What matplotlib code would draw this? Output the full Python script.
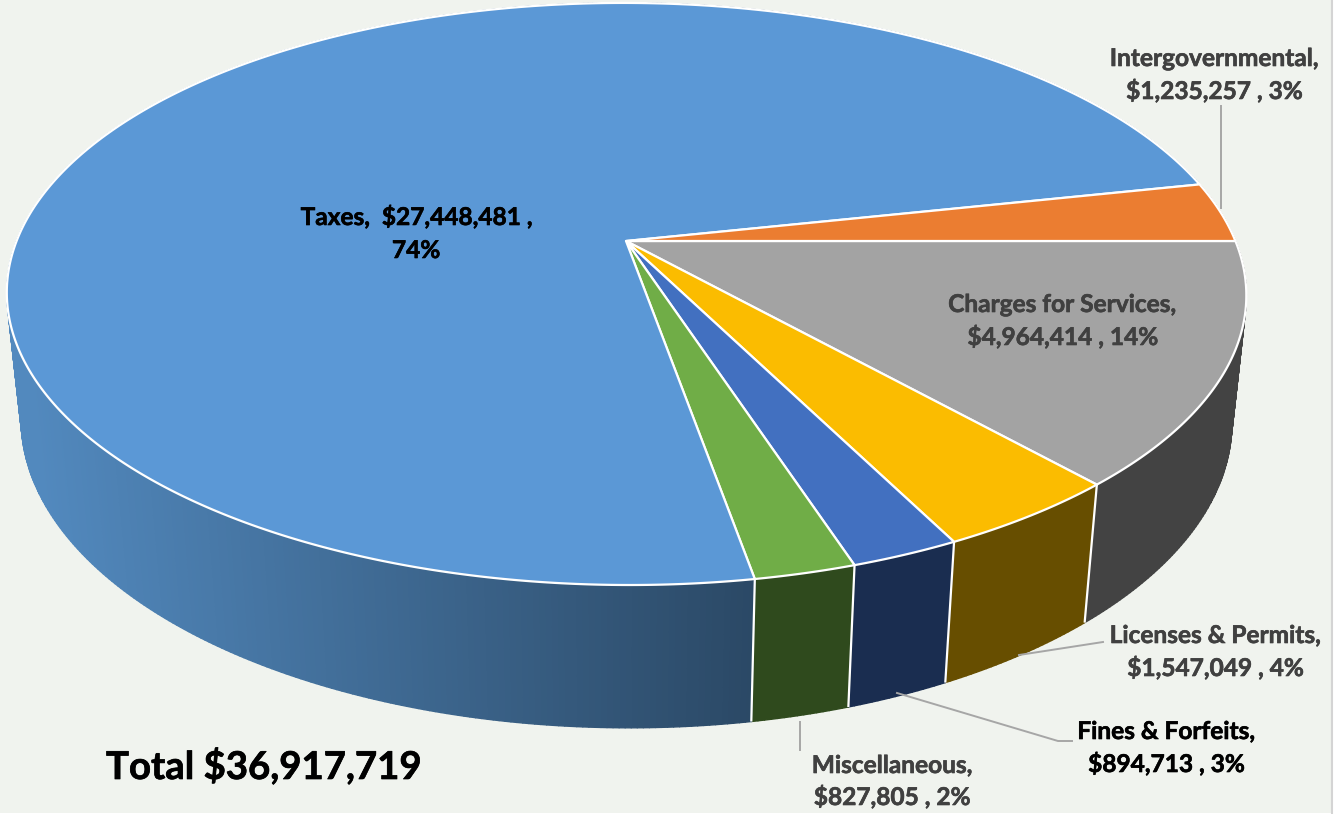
import numpy as np
import matplotlib
matplotlib.use("Agg")
import matplotlib.pyplot as plt
import matplotlib.patheffects as pe
from matplotlib.collections import PolyCollection
from matplotlib.colors import to_rgb

# Revenue by source; order runs clockwise from the three o'clock direction
categories = ["Charges for Services", "Licenses & Permits", "Fines & Forfeits",
              "Miscellaneous", "Taxes", "Intergovernmental"]
amounts = [4964414, 1547049, 894713, 827805, 27448481, 1235257]
percents = [14, 4, 3, 2, 74, 3]
total_label = "Total $36,917,719"

top_colors = ["#A3A3A3", "#FBBC00", "#4270C0", "#70AD47", "#5B98D6", "#EB7D31"]
side_colors = ["#434343", "#674E00", "#1A2D50", "#2F4A1D", None, "#8A4A1C"]
BLUE_SIDE_LIGHT = "#5289BE"
BLUE_SIDE_DARK = "#2B4966"
BG = "#F0F3EE"
TEXT_DARK = "#404040"
LEADER = "#A6A6A6"

# Perspective projection of the pie disc onto the page (pixel units)
CX, CY = 626.0, 241.0
RX, RY = 609.4, 281.4
SKEW = 3.0
TILT = -0.182
DEPTH_W, DEPTH_Y = 0.023, 128.0


def project(theta, lower=False):
    u, v = np.cos(theta), np.sin(theta)
    w = 1 + TILT * v + (DEPTH_W if lower else 0.0)
    y = RY * v + (DEPTH_Y if lower else 0.0)
    return CX + (RX * u + SKEW * v) / w, CY + y / w


fig = plt.figure(figsize=(13.43, 8.14), dpi=100, facecolor="white")
ax = fig.add_axes([0, 0, 1, 1])
ax.set_xlim(0, 1343)
ax.set_ylim(814, 0)
ax.axis("off")

# Panel background with its thin grey right edge
ax.add_patch(plt.Rectangle((0, 0), 1332, 813, facecolor=BG, edgecolor="none", zorder=0))
ax.plot([1332, 1332], [0, 813], color="#D4D4D4", lw=1.5, zorder=0.5)

fractions = np.array(amounts, dtype=float) / sum(amounts)
edges = np.concatenate([[0.0], np.cumsum(fractions) * 2 * np.pi])

# Side wall, built from narrow quads between the upper and lower rims
for i, (start, end) in enumerate(zip(edges[:-1], edges[1:])):
    t = np.linspace(start, end, max(int((end - start) * 120), 8))
    xa, ya = project(t)
    xb, yb = project(t, lower=True)
    quads = [[(xa[j], ya[j]), (xa[j + 1], ya[j + 1]), (xb[j + 1], yb[j + 1]), (xb[j], yb[j])]
             for j in range(len(t) - 1)]
    if side_colors[i] is None:
        light, dark = np.array(to_rgb(BLUE_SIDE_LIGHT)), np.array(to_rgb(BLUE_SIDE_DARK))
        mids = np.clip((0.5 * (xa[:-1] + xa[1:]) - 30) / (750 - 30), 0, 1)
        colors = [tuple(light + (dark - light) * m) for m in mids]
    else:
        colors = [side_colors[i]] * len(quads)
    ax.add_collection(PolyCollection(quads, facecolors=colors, edgecolors=colors,
                                     linewidths=1.0, zorder=1))

# White seams on the wall where slices meet along the front
for a in edges:
    if np.sin(a) > 0.1:
        x0, y0 = project(a)
        x1, y1 = project(a, lower=True)
        ax.plot([x0, x1], [y0, y1], color="white", lw=1.6, zorder=1.5, solid_capstyle="butt")

# Top face of the pie
for i, (start, end) in enumerate(zip(edges[:-1], edges[1:])):
    t = np.linspace(start, end, max(int((end - start) * 200), 12))
    xs, ys = project(t)
    ax.fill(np.r_[CX, xs], np.r_[CY, ys], facecolor=top_colors[i], edgecolor="white",
            lw=1.6, joinstyle="round", zorder=2)

# Leader lines from the labels to their slices
leaders = [
    ([1221, 1221], [106, 208]),
    ([1019, 1103], [655, 642]),
    ([897, 1058, 1072], [693, 741, 741]),
    ([800, 800], [722, 750]),
]
for lx, ly in leaders:
    ax.plot(lx, ly, color=LEADER, lw=1.4, zorder=1.8)


def label_text(name):
    i = categories.index(name)
    return f"${amounts[i]:,} , {percents[i]}%"


def draw_label(x, y1, y2, line1, line2, color):
    for y, s in ((y1, line1), (y2, line2)):
        ax.text(x, y, s, ha="center", va="baseline", fontsize=17.6, fontweight="bold",
                family="Lato", color=color, zorder=3,
                path_effects=[pe.withStroke(linewidth=0.45, foreground=color)])


draw_label(416, 225, 258, f"Taxes,  ${amounts[4]:,} ,", f"{percents[4]}%", "black")
draw_label(1214, 66, 99, "Intergovernmental,", label_text("Intergovernmental"), TEXT_DARK)
draw_label(1062, 312, 345, "Charges for Services,", label_text("Charges for Services"), TEXT_DARK)
draw_label(1215, 643, 676, "Licenses & Permits,", label_text("Licenses & Permits"), TEXT_DARK)
draw_label(1166, 739, 772, "Fines & Forfeits,", label_text("Fines & Forfeits"), "black")
draw_label(892, 773, 805, "Miscellaneous,", label_text("Miscellaneous"), TEXT_DARK)

ax.text(106, 779, total_label, ha="left", va="baseline", fontsize=27.6, fontweight="bold",
        family="Lato", color="black", zorder=3,
        path_effects=[pe.withStroke(linewidth=0.5, foreground="black")])

fig.savefig("out.png", dpi=100, facecolor="white")
